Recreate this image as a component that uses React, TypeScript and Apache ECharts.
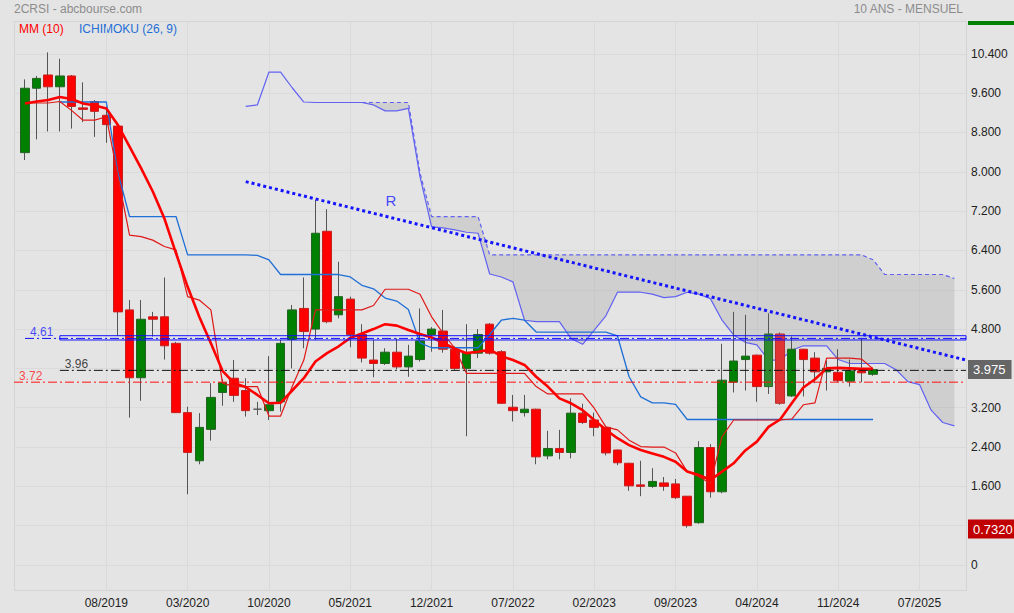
import React, { useEffect, useRef } from "react";
import * as echarts from "echarts";

// ---------- categories (monthly, 01/2019 .. 10/2025) ----------
const months: string[] = [];
for (let y = 2019; y <= 2025; y++) {
  for (let m = 1; m <= 12; m++) {
    if (y === 2025 && m > 10) break;
    months.push(`${String(m).padStart(2, "0")}/${y}`);
  }
}
const xTickIndex = [7, 14, 21, 28, 35, 42, 49, 56, 63, 70, 77];
const xTickLabels = ["08/2019", "03/2020", "10/2020", "05/2021", "12/2021", "07/2022", "02/2023", "09/2023", "04/2024", "11/2024", "07/2025"];

// ---------- candles: [open, close, low, high] ----------
const ohlc: number[][] = [
  [8.39, 9.70, 8.24, 9.88], [9.70, 9.90, 8.66, 9.95], [9.97, 9.73, 8.82, 10.43], [9.73, 9.95, 8.82, 10.30],
  [9.95, 9.33, 8.88, 9.97], [9.30, 9.27, 9.01, 9.82], [9.43, 9.23, 8.71, 9.46], [9.15, 8.96, 8.59, 9.33],
  [8.93, 5.15, 4.66, 8.93], [5.19, 3.81, 3.00, 5.39], [3.81, 5.00, 3.34, 5.39], [5.05, 5.00, 4.65, 5.15],
  [5.05, 4.46, 4.18, 5.85], [4.51, 3.10, 3.10, 4.54], [3.10, 2.29, 1.44, 3.22], [2.12, 2.80, 2.05, 3.09],
  [2.76, 3.41, 2.53, 3.70], [3.51, 3.71, 3.24, 3.78], [3.80, 3.45, 3.32, 4.17], [3.55, 3.14, 3.02, 3.80],
  [3.17, 3.17, 3.05, 3.32], [3.14, 3.26, 2.95, 4.25], [3.32, 4.51, 3.12, 4.58], [4.59, 5.19, 4.00, 5.29],
  [5.22, 4.75, 4.41, 5.85], [4.80, 6.75, 4.58, 7.43], [6.79, 4.95, 4.92, 7.24], [5.09, 5.46, 5.02, 6.17],
  [5.41, 4.69, 4.43, 5.46], [4.69, 4.21, 4.12, 4.90], [4.17, 4.10, 3.82, 4.58], [4.10, 4.33, 4.07, 4.41],
  [4.33, 4.03, 3.98, 4.61], [4.03, 4.25, 3.83, 4.48], [4.18, 4.56, 4.14, 5.22], [4.69, 4.80, 4.34, 4.84],
  [4.76, 4.39, 4.32, 5.19], [4.39, 4.00, 3.97, 4.45], [4.00, 4.32, 2.62, 4.90], [4.31, 4.69, 4.21, 4.80],
  [4.90, 4.31, 4.28, 4.92], [4.34, 3.29, 3.28, 4.37], [3.21, 3.14, 2.92, 3.46], [3.10, 3.17, 3.02, 3.46],
  [3.17, 2.20, 2.05, 3.18], [2.22, 2.37, 2.15, 2.73], [2.37, 2.29, 2.15, 2.75], [2.29, 3.09, 2.17, 3.39],
  [3.09, 2.90, 2.87, 3.28], [2.95, 2.80, 2.62, 3.10], [2.80, 2.28, 2.23, 2.81], [2.34, 2.08, 2.03, 2.35],
  [2.07, 1.61, 1.51, 2.08], [1.63, 1.60, 1.40, 2.12], [1.60, 1.70, 1.57, 1.97], [1.67, 1.60, 1.51, 1.79],
  [1.65, 1.37, 1.34, 1.75], [1.40, 0.80, 0.76, 1.40], [0.86, 2.39, 0.84, 2.52], [2.39, 1.49, 1.37, 2.46],
  [1.49, 3.76, 1.46, 4.50], [3.72, 4.15, 3.51, 5.15], [4.18, 4.25, 3.55, 5.09], [4.27, 3.63, 3.32, 4.28],
  [3.63, 4.70, 3.48, 5.12], [4.70, 3.29, 3.26, 4.73], [3.44, 4.39, 3.42, 4.65], [4.39, 4.18, 3.43, 4.40],
  [4.21, 3.93, 3.70, 4.33], [3.93, 4.00, 3.55, 4.16], [3.92, 3.75, 3.72, 4.39], [3.74, 3.95, 3.63, 4.18],
  [3.95, 3.91, 3.72, 4.61], [3.88, 3.975, 3.85, 3.99],
];

// ---------- indicators ----------
const mm10 = [
  9.39, 9.43, 9.46, 9.52, 9.48, 9.39, 9.35, 9.29, 8.95, 8.51, 8.07, 7.60, 7.05, 6.34, 5.66, 5.05, 4.51, 3.95, 3.70, 3.62,
  3.46, 3.29, 3.30, 3.55, 3.80, 4.14, 4.31, 4.45, 4.62, 4.71, 4.80, 4.90, 4.87, 4.78, 4.70, 4.63, 4.52, 4.40, 4.31, 4.34,
  4.38, 4.25, 4.17, 4.07, 3.83, 3.63, 3.39, 3.29, 3.15, 2.95, 2.75, 2.58, 2.44, 2.34, 2.27, 2.20, 2.10, 1.90, 1.83, 1.73,
  1.90, 2.07, 2.33, 2.51, 2.81, 2.96, 3.29, 3.61, 3.78, 4.00, 4.01, 4.00, 3.99, 3.99,
];
const tenkan = [
  9.40, 9.40, 9.40, 9.43, 9.25, 9.05, 9.05, 9.12, 7.90, 6.71, 6.68, 6.61, 6.48, 6.41, 5.46, 5.39, 5.19, 3.70, 3.63, 3.63,
  3.63, 3.03, 3.03, 3.63, 4.17, 5.19, 5.19, 5.19, 5.19, 5.19, 5.28, 5.61, 5.61, 5.61, 5.51, 5.05, 4.71, 4.41, 3.90, 3.90,
  3.90, 3.90, 3.90, 3.90, 3.63, 3.48, 3.48, 3.48, 3.48, 3.19, 2.81, 2.75, 2.54, 2.41, 2.40, 2.40, 2.28, 1.90, 1.80, 1.66,
  2.61, 2.95, 2.95, 2.95, 2.95, 2.95, 2.97, 3.26, 3.30, 4.21, 4.21, 4.21, 4.19, 3.99,
];
const kijun = [
  null, null, null, 9.42, 9.42, 9.42, 9.42, 9.42, 7.98, 7.09, 7.09, 7.09, 7.09, 7.09, 6.31, 6.31, 6.31, 6.31, 6.31, 6.31,
  6.30, 6.21, 5.91, 5.91, 5.91, 5.91, 5.91, 5.91, 5.86, 5.69, 5.62, 5.43, 5.37, 5.20, 4.52, 4.42, 4.42, 4.42, 4.42, 4.42,
  4.69, 4.98, 5.02, 4.98, 4.74, 4.74, 4.74, 4.74, 4.74, 4.74, 4.74, 4.66, 3.83, 3.42, 3.30, 3.30, 3.27, 2.96, 2.96, 2.96,
  2.96, 2.96, 2.96, 2.96, 2.96, 2.96, 2.96, 2.96, 2.96, 2.96, 2.96, 2.96, 2.96, 2.96,
];
// Senkou span A (from month index 19) and B (from month index 29), projected ahead
const senkouAStart = 19;
const senkouA = [
  9.33, 9.36, 10.03, 10.03, 9.71, 9.42, 9.41, 9.41, 9.41, 9.41, 9.41, 9.36, 9.24, 9.24, 9.29, 7.90, 6.88, 6.86, 6.82, 6.77,
  6.75, 5.92, 5.86, 5.76, 4.98, 4.95, 4.95, 4.95, 4.61, 4.49, 4.78, 5.07, 5.55, 5.55, 5.55, 5.51, 5.44, 5.46, 5.55, 5.51,
  5.42, 4.98, 4.68, 4.53, 4.48, 4.17, 4.17, 4.37, 4.46, 4.46, 4.46, 4.18, 4.10, 4.10, 4.10, 4.10, 3.97, 3.73, 3.67, 3.15,
  2.90, 2.83,
];
const senkouBStart = 29;
const senkouB = [
  9.41, 9.41, 9.41, 9.41, 9.41, 7.98, 7.09, 7.09, 7.09, 7.09, 7.09, 6.31, 6.31, 6.31, 6.31, 6.31, 6.31, 6.31, 6.31, 6.31,
  6.31, 6.31, 6.31, 6.31, 6.31, 6.31, 6.31, 6.31, 6.31, 6.31, 6.31, 6.31, 6.31, 6.31, 6.31, 6.31, 6.31, 6.31, 6.31, 6.31,
  6.31, 6.31, 6.31, 6.31, 6.21, 5.91, 5.91, 5.91, 5.91, 5.91, 5.91, 5.83,
];

// ---------- drawn levels ----------
const levelBlue = 4.61;
const levelBlueBand = [4.665, 4.578];
const levelBlack = 3.96;
const levelRed = 3.72;
const trendR = [[19, 7.80], [81, 4.17]];
const trendLabelAt = [31.5, 7.41];
const lastPrice = 3.975;
const lowMark = 0.732;

// ---------- layout ----------
const W = 1014, H = 613;
const plotLeft = 14, plotRight = 966, plotTop = 21, plotBottom = 590;
const firstX = 25;
const yZeroPx = 565, pxPerUnit = 49.15;
const yMin = (yZeroPx - plotBottom) / pxPerUnit;
const yMax = (yZeroPx - plotTop) / pxPerUnit;
const nCat = months.length;
const step = (plotRight - firstX) / (nCat - 1);
const xMinVal = (plotLeft - firstX) / step;
const xMaxVal = nCat - 1;
const FONT = "'Liberation Sans', Arial, Helvetica, sans-serif";
const BG = "#e4e4e4";
const GRIDC = "#dadada";

function pad(start: number, arr: (number | null)[]) {
  const out: (number | null)[] = [];
  for (let i = 0; i < nCat; i++) {
    const k = i - start;
    out.push(k >= 0 && k < arr.length ? arr[k] : null);
  }
  return out;
}

function buildOption() {
  const A = pad(senkouAStart, senkouA);
  const B = pad(senkouBStart, senkouB);
  const cloudBase = A.map((a, i) => (a != null && B[i] != null ? Math.min(a, B[i] as number) : null));
  const cloudDiff = A.map((a, i) => (a != null && B[i] != null ? Math.abs(a - (B[i] as number)) : null));

  const wickData = ohlc.map((d) => d);
  const bodyData = ohlc.map((d, i) => {
    const item: any = { value: [d[0], d[1], Math.min(d[0], d[1]), Math.max(d[0], d[1])] };
    if (i === 64) item.itemStyle = { color: "#2e8a2e", borderColor: "#2a6a2a" };
    if (i === 65) item.itemStyle = { color0: "#e03434", borderColor0: "#b83030", color: "#e03434" };
    if (d[0] === d[1]) item.itemStyle = { borderColor: "#555", borderColor0: "#555" };
    return item;
  });

  const tickInterval = (index: number) => xTickIndex.indexOf(index) >= 0;

  const hLine = (x0: number, v: number, color: string, type: any, z = 6) => ({
    type: "line",
    xAxisIndex: 2,
    yAxisIndex: 2,
    data: [[x0, v], [xMaxVal, v]],
    symbol: "none",
    silent: true,
    z,
    lineStyle: { color, width: 1, type },
  });
  const textAt = (x: number, v: number, text: string, color: string) => ({
    type: "scatter",
    xAxisIndex: 2,
    yAxisIndex: 2,
    data: [[x, v]],
    symbolSize: 1,
    silent: true,
    z: 7,
    itemStyle: { color: "transparent" },
    label: {
      show: true,
      position: "top",
      distance: 0,
      align: "left",
      offset: [5, 0],
      formatter: text,
      color,
      fontSize: 12,
      fontFamily: FONT,
    },
  });
  const priceTag = (v: number, text: string, bg: string) => ({
    yAxis: v,
    lineStyle: { color: "rgba(0,0,0,0)", width: 0 },
    label: {
      show: true,
      position: "end",
      distance: 2,
      formatter: text,
      color: "#ffffff",
      opacity: 1,
      backgroundColor: bg,
      padding: [3, 6, 3, 5],
      fontSize: 13,
      fontFamily: FONT,
    },
  });

  return {
    animation: false,
    backgroundColor: BG,
    textStyle: { fontFamily: FONT },
    grid: [
      { left: firstX, right: W - plotRight, top: plotTop, bottom: H - plotBottom },
      { left: plotLeft, right: W - plotRight, top: yZeroPx - 10.4 * pxPerUnit, bottom: H - yZeroPx },
      { left: plotLeft, right: W - plotRight, top: plotTop, bottom: H - plotBottom },
    ],
    xAxis: [
      {
        type: "category",
        gridIndex: 0,
        data: months,
        boundaryGap: false,
        axisLine: { show: false },
        axisTick: { show: false },
        axisLabel: {
          interval: tickInterval,
          formatter: (_v: string, i: number) => {
            const k = xTickIndex.indexOf(i);
            return k >= 0 ? xTickLabels[k] : "";
          },
          color: "#222",
          fontSize: 12,
          fontFamily: FONT,
          margin: 7,
        },
        splitLine: { show: true, interval: tickInterval, lineStyle: { color: GRIDC, width: 1 } },
      },
      { type: "value", gridIndex: 1, min: 0, max: 1, show: false },
      { type: "value", gridIndex: 2, min: xMinVal, max: xMaxVal, show: false },
    ],
    yAxis: [
      { type: "value", gridIndex: 0, min: yMin, max: yMax, show: false, splitLine: { show: false } },
      {
        type: "value",
        gridIndex: 1,
        min: 0,
        max: 10.4,
        interval: 0.8,
        position: "right",
        axisLine: { show: false },
        axisTick: { show: false },
        axisLabel: {
          color: "#222",
          fontSize: 12,
          fontFamily: FONT,
          margin: 5,
          padding: [0, 0, 4, 0],
          formatter: (v: number) => (v === 0 ? "0" : v < 1 ? v.toFixed(4) : v.toFixed(3)),
        },
        splitLine: { show: true, lineStyle: { color: GRIDC, width: 1 } },
      },
      { type: "value", gridIndex: 2, min: yMin, max: yMax, show: false, splitLine: { show: false } },
    ],
    graphic: [
      { type: "rect", shape: { x: plotLeft + 0.5, y: plotTop + 0.5, width: plotRight - plotLeft, height: plotBottom - plotTop }, style: { fill: "none", stroke: "#d4d4d4", lineWidth: 1 }, silent: true, z: 0 },
      { type: "rect", shape: { x: 968, y: 21, width: 46, height: 4 }, style: { fill: "#008000" }, silent: true },
      { type: "text", x: 14, y: 9, style: { text: "2CRSI - abcbourse.com", fill: "#8c8c8c", font: `12px ${FONT}`, align: "left", verticalAlign: "middle" }, silent: true },
      { type: "text", x: 963, y: 9, style: { text: "10 ANS - MENSUEL", fill: "#8c8c8c", font: `12px ${FONT}`, align: "right", verticalAlign: "middle" }, silent: true },
      { type: "text", x: 19, y: 29, style: { text: "MM (10)", fill: "#ff0000", font: `12px ${FONT}`, align: "left", verticalAlign: "middle" }, silent: true },
      { type: "text", x: 79, y: 29, style: { text: "ICHIMOKU (26, 9)", fill: "#1f6fd6", font: `12px ${FONT}`, align: "left", verticalAlign: "middle" }, silent: true },
    ],
    series: [
      {
        type: "line", name: "cloudBase", data: cloudBase, stack: "cloud", symbol: "none", silent: true, z: 1,
        lineStyle: { opacity: 0 },
      },
      {
        type: "line", name: "cloudFill", data: cloudDiff, stack: "cloud", symbol: "none", silent: true, z: 1,
        lineStyle: { opacity: 0 },
        areaStyle: { color: "rgba(150,150,150,0.38)" },
      },
      {
        type: "line", name: "SSA", data: A, symbol: "none", silent: true, z: 2,
        lineStyle: { color: "#6262f2", width: 1.2 },
      },
      {
        type: "line", name: "SSB", data: B, symbol: "none", silent: true, z: 2,
        lineStyle: { color: "#6262f2", width: 1.2, type: [4, 3] },
      },
      {
        type: "candlestick", name: "wick", data: wickData, barWidth: 1, silent: true, z: 3,
        itemStyle: { color: "#555", color0: "#555", borderColor: "#555", borderColor0: "#555", borderWidth: 1 },
      },
      {
        type: "candlestick", name: "body", data: bodyData, barWidth: 9, silent: true, z: 3,
        itemStyle: { color: "#008000", color0: "#ff0000", borderColor: "#256325", borderColor0: "#c42020", borderWidth: 1 },
        markLine: {
          silent: true,
          symbol: ["none", "none"],
          z: 10,
          data: [priceTag(lastPrice, lastPrice.toFixed(3), "#666666"), priceTag(lowMark, lowMark.toFixed(4), "#c00000")],
        },
      },
      {
        type: "line", name: "Kijun", data: kijun, symbol: "none", silent: true, z: 4,
        lineStyle: { color: "#1f6fd6", width: 1.3 },
      },
      {
        type: "line", name: "Tenkan", data: tenkan, symbol: "none", silent: true, z: 4,
        lineStyle: { color: "#e01818", width: 1.2 },
      },
      {
        type: "line", name: "MM (10)", data: mm10, symbol: "none", silent: true, z: 5, smooth: false,
        lineStyle: { color: "#ff0000", width: 2.6 },
      },
      // levels
      {
        type: "line", xAxisIndex: 2, yAxisIndex: 2, symbol: "none", silent: true, z: 6,
        data: [[3, levelBlueBand[0]], [xMaxVal, levelBlueBand[0]], [xMaxVal, levelBlueBand[1]], [3, levelBlueBand[1]], [3, levelBlueBand[0]]],
        lineStyle: { color: "#1010ff", width: 1 },
      },
      hLine(0, levelBlue, "#1010ff", [9, 3, 2, 3]),
      hLine(3, levelBlack, "#111111", [9, 3, 2, 3]),
      hLine(xMinVal, levelRed, "#ff1010", [9, 3, 2, 3]),
      textAt(0, levelBlue, levelBlue.toFixed(2), "#2020ff"),
      textAt(3, levelBlack, levelBlack.toFixed(2), "#111111"),
      textAt(xMinVal, levelRed, levelRed.toFixed(2), "#ff2020"),
      {
        type: "line", xAxisIndex: 2, yAxisIndex: 2, symbol: "none", silent: true, z: 6,
        data: trendR,
        lineStyle: { color: "#1414ff", width: 3, type: [3, 3] },
      },
      {
        type: "scatter", xAxisIndex: 2, yAxisIndex: 2, data: [trendLabelAt], symbolSize: 1, silent: true, z: 7,
        itemStyle: { color: "transparent" },
        label: { show: true, position: "inside", formatter: "R", color: "#1a1aff", fontSize: 15, fontFamily: FONT },
      },
    ],
  };
}

export default function App() {
  const ref = useRef<HTMLDivElement>(null);
  useEffect(() => {
    document.body.style.margin = "0";
    document.body.style.background = BG;
    const chart = echarts.init(ref.current as HTMLDivElement, undefined, { renderer: "svg", width: W, height: H });
    chart.setOption(buildOption() as any);
    return () => chart.dispose();
  }, []);
  return <div ref={ref} style={{ position: "absolute", left: 0, top: 0, width: W, height: H }} />;
}
